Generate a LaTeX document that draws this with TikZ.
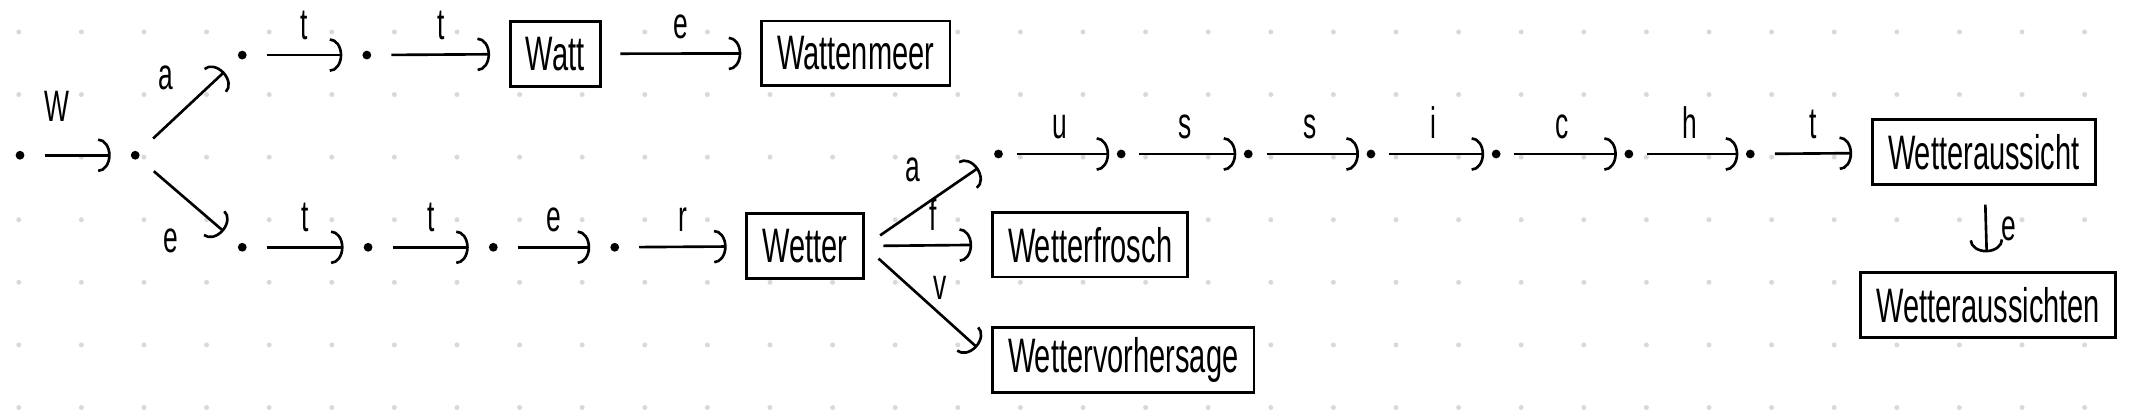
\documentclass[tikz,border=0pt]{standalone}
\usepackage{fontspec}
\setmainfont{Liberation Sans}[FakeStretch=0.6]
\usetikzlibrary{arrows.meta}
\tikzstyle{dotnode}=[circle,fill=black,minimum size=4pt,inner sep=0pt]
\tikzstyle{word}=[draw,fill=white,line width=1.3pt,minimum height=1.03cm,inner xsep=0.25cm,font=\fontsize{22}{26}\selectfont]
\tikzstyle{lbl}=[font=\fontsize{20}{24}\selectfont,inner sep=0.22cm]

\begin{document}
\begin{tikzpicture}[>={Arc Barb[length=2mm,width=5.4mm]}, line width=1.2pt,
  every edge/.style={draw, shorten <=0.3cm, shorten >=0.3cm},
  tight/.style={shorten <=0.2cm, shorten >=0.1cm}]
\useasboundingbox (0, 0) rectangle (34.105, -6.645);
\foreach \i in {0,...,33}
  \foreach \j in {0,...,6}
    \fill[gray!30] ({0.30+\i}, {-0.51-\j}) circle (0.04);

\node[dotnode] at (0.32, -2.48) (s) {};
\node[dotnode] at (2.16, -2.48) (w) {};
\node[dotnode] at (3.87, -0.88) (wa) {};
\node[dotnode] at (5.86, -0.88) (wat) {};
\node[word] at (8.87, -0.86) (watt) {Watt};
\node[word] at (13.67, -0.85) (wattenmeer) {Wattenmeer};
\node[dotnode] at (3.87, -3.95) (we) {};
\node[dotnode] at (5.88, -3.95) (wet) {};
\node[dotnode] at (7.88, -3.95) (wett) {};
\node[dotnode] at (9.82, -3.95) (wette) {};
\node[word] at (12.86, -3.93) (wetter) {Wetter};
\node[word, anchor = west] at (15.83, -3.91) (frosch) {Wetterfrosch};
\node[word, anchor = west] at (15.83, -5.75) (vorhersage) {Wettervorhersage};
\node[dotnode] at (15.95, -2.46) (a) {};
\node[dotnode] at (17.91, -2.46) (au) {};
\node[dotnode] at (19.94, -2.46) (aus) {};
\node[dotnode] at (21.90, -2.46) (auss) {};
\node[dotnode] at (23.90, -2.46) (aussi) {};
\node[dotnode] at (26.02, -2.46) (aussic) {};
\node[dotnode] at (27.96, -2.46) (aussich) {};
\node[word] at (31.69, -2.43) (aussicht) {Wetteraussicht};
\node[word] at (31.76, -4.87) (aussichten) {Wetteraussichten};

\draw[->] (s) edge node[lbl, anchor = south, pos = 0.3, yshift = 0.3cm] {W} (w);
\draw[->] (w) edge node[lbl, anchor = south east, pos = 0.5] {a} (wa);
\draw[->] (wa) edge node[lbl, anchor = south] {t} (wat);
\draw[->] (wat) edge node[lbl, anchor = south] {t} (watt);
\draw[->] (watt) edge node[lbl, anchor = south] {e} (wattenmeer);
\draw[->] (w) edge node[lbl, anchor = east, pos = 0.9, xshift = -0.55cm, yshift = -0.1cm] {e} (we);
\draw[->] (we) edge node[lbl, anchor = south] {t} (wet);
\draw[->] (wet) edge node[lbl, anchor = south] {t} (wett);
\draw[->] (wett) edge node[lbl, anchor = south] {e} (wette);
\draw[->] (wette) edge node[lbl, anchor = south] {r} (wetter);
\path[->] (wetter.east) edge node[lbl, anchor = south east, pos = 0.55] {a} (a);
\path[->] (wetter.east) edge node[lbl, anchor = south, pos = 0.54] {f} (frosch.west);
\path[->] (wetter.east) edge node[lbl, anchor = south, pos = 0.6] {v} (vorhersage.west);
\draw[->] (a) edge[tight] node[lbl, anchor = south] {u} (au);
\draw[->] (au) edge[tight] node[lbl, anchor = south] {s} (aus);
\draw[->] (aus) edge[tight] node[lbl, anchor = south] {s} (auss);
\draw[->] (auss) edge[tight] node[lbl, anchor = south] {i} (aussi);
\draw[->] (aussi) edge[tight] node[lbl, anchor = south] {c} (aussic);
\draw[->] (aussic) edge[tight] node[lbl, anchor = south] {h} (aussich);
\draw[->] (aussich) edge node[lbl, anchor = south] {t} (aussicht);
\draw[->] (aussicht) edge node[lbl, anchor = west] {e} (aussichten);
\end{tikzpicture}
\end{document}
